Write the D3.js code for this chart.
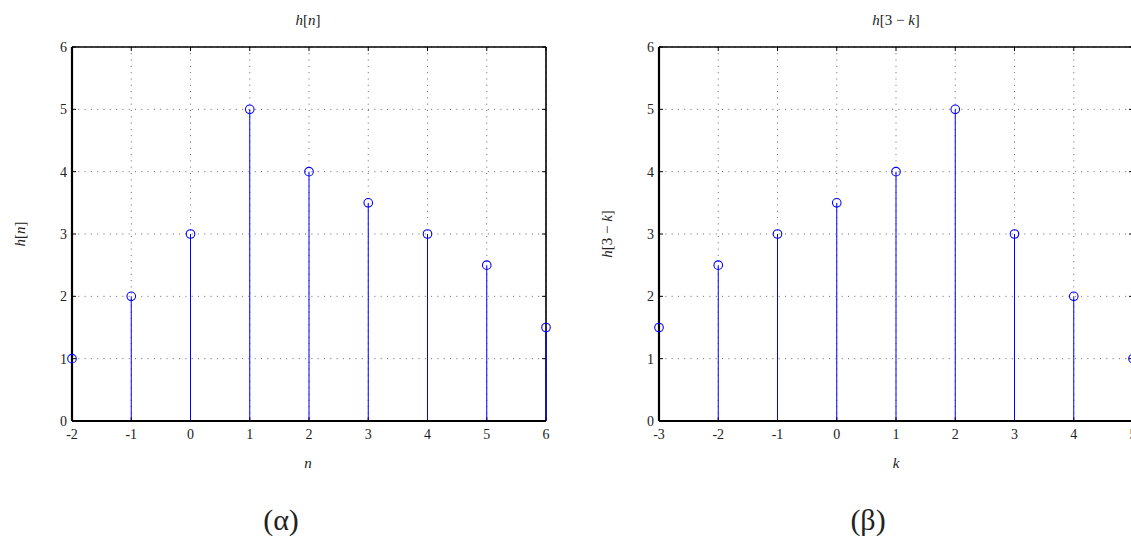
<!DOCTYPE html>
<html><head><meta charset="utf-8">
<script src="https://cdn.jsdelivr.net/npm/d3@7"></script>
<style>
body{margin:0;background:#fff;}
text{font-family:"Liberation Serif","DejaVu Serif",serif;fill:#222;}
</style></head>
<body><svg id="c" width="1131" height="538"></svg>
<script>
const nValues = [-2,-1,0,1,2,3,4,5,6];
const hValues = [1,2,3,5,4,3.5,3,2.5,1.5];
const kValues = [-3,-2,-1,0,1,2,3,4,5];
const hFlipValues = [1.5,2.5,3,3.5,4,5,3,2,1];
const yTicks = [0,1,2,3,4,5,6];
const nTickLabels = ["-2","-1","0","1","2","3","4","5","6"];
const kTickLabels = ["-3","-2","-1","0","1","2","3","4","5"];

const svg = d3.select("#c");

function panel(opts){
  const {left,right,top,bottom,xs,ys,xlabels,title,xname,ycenter,caption,captionX} = opts;
  const g = svg.append("g");
  const x = d3.scaleLinear().domain([xs[0], xs[xs.length-1]]).range([left,right]);
  const y = d3.scaleLinear().domain([0,6]).range([bottom,top]);
  g.selectAll(".gx").data(xs).enter().append("line")
    .attr("x1",d=>x(d)).attr("x2",d=>x(d)).attr("y1",top).attr("y2",bottom)
    .attr("stroke","#666").attr("stroke-width",1).attr("stroke-dasharray","1,5.3");
  g.selectAll(".gy").data(yTicks).enter().append("line")
    .attr("x1",left).attr("x2",right).attr("y1",d=>y(d)).attr("y2",d=>y(d))
    .attr("stroke","#666").attr("stroke-width",1).attr("stroke-dasharray","1,5.3");
  const tl=4;
  xs.forEach(d=>{
    g.append("line").attr("x1",x(d)).attr("x2",x(d)).attr("y1",bottom).attr("y2",bottom-tl).attr("stroke","#000");
    g.append("line").attr("x1",x(d)).attr("x2",x(d)).attr("y1",top).attr("y2",top+tl).attr("stroke","#000");
  });
  yTicks.forEach(d=>{
    g.append("line").attr("x1",left).attr("x2",left+tl).attr("y1",y(d)).attr("y2",y(d)).attr("stroke","#000");
    g.append("line").attr("x1",right).attr("x2",right-tl).attr("y1",y(d)).attr("y2",y(d)).attr("stroke","#000");
  });
  g.append("line").attr("x1",left).attr("x2",right).attr("y1",top).attr("y2",top).attr("stroke","#000").attr("stroke-width",1.6);
  g.append("line").attr("x1",right).attr("x2",right).attr("y1",top).attr("y2",bottom).attr("stroke","#000").attr("stroke-width",1.6);
  g.selectAll(".stem").data(opts.data).enter().append("line")
    .attr("x1",d=>x(d[0])).attr("x2",d=>x(d[0])).attr("y1",y(0)).attr("y2",d=>y(d[1]))
    .attr("stroke","#0000ff").attr("stroke-width",1);
  g.append("line").attr("x1",left).attr("x2",right).attr("y1",bottom).attr("y2",bottom).attr("stroke","#000").attr("stroke-width",2.2);
  g.append("line").attr("x1",left).attr("x2",left).attr("y1",top).attr("y2",bottom).attr("stroke","#000").attr("stroke-width",2.2);
  g.selectAll(".mk").data(opts.data).enter().append("circle")
    .attr("cx",d=>x(d[0])).attr("cy",d=>y(d[1])).attr("r",4.3)
    .attr("fill","none").attr("stroke","#0000ff").attr("stroke-width",1.1);
  g.selectAll(".xl").data(xs).enter().append("text")
    .attr("x",(d,i)=>x(d)).attr("y",bottom+18).attr("text-anchor","middle")
    .attr("font-size",14).text((d,i)=>xlabels[i]);
  g.selectAll(".yl").data(yTicks).enter().append("text")
    .attr("x",left-5).attr("y",d=>y(d)+5).attr("text-anchor","end")
    .attr("font-size",14).text(d=>d);
  const t = g.append("text").attr("x",ycenter.tx).attr("y",25).attr("text-anchor","middle").attr("font-size",15);
  title.forEach(p=>t.append("tspan").attr("font-style",p[1]?"italic":"normal").text(p[0]));
  g.append("text").attr("x",ycenter.tx).attr("y",468).attr("text-anchor","middle")
    .attr("font-size",15).attr("font-style","italic").text(xname);
  const yl = g.append("text").attr("transform",`translate(${ycenter.yx},${(top+bottom)/2}) rotate(-90)`)
    .attr("text-anchor","middle").attr("font-size",15);
  title.forEach(p=>yl.append("tspan").attr("font-style",p[1]?"italic":"normal").text(p[0]));
  g.append("text").attr("x",captionX).attr("y",530).attr("text-anchor","middle")
    .attr("font-size",30).attr("font-family","DejaVu Sans").text(caption);
}

panel({left:72,right:546,top:47,bottom:421,xs:nValues,xlabels:nTickLabels,
  data:nValues.map((d,i)=>[d,hValues[i]]),
  title:[["h",1],["[",0],["n",1],["]",0]],xname:"n",ycenter:{tx:308,yx:25},
  caption:"(α)",captionX:281});
panel({left:659,right:1133,top:47,bottom:421,xs:kValues,xlabels:kTickLabels,
  data:kValues.map((d,i)=>[d,hFlipValues[i]]),
  title:[["h",1],["[3 − ",0],["k",1],["]",0]],xname:"k",ycenter:{tx:896,yx:612},
  caption:"(β)",captionX:868});
</script></body></html>
